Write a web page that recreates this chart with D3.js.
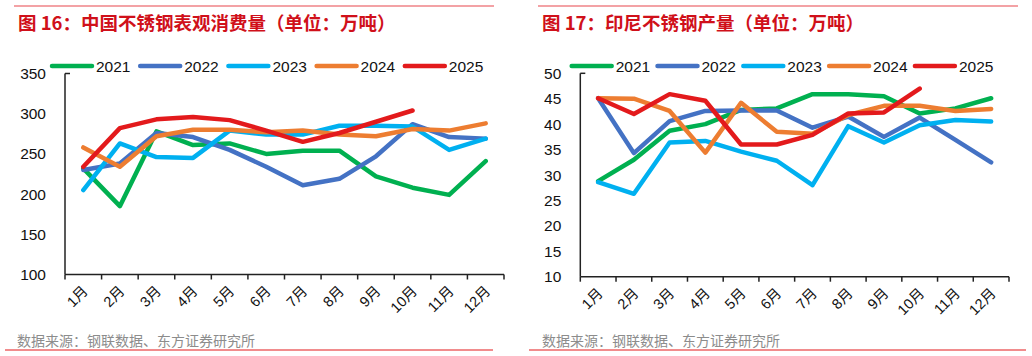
<!DOCTYPE html>
<html><head><meta charset="utf-8">
<script src="https://cdn.jsdelivr.net/npm/d3@7"></script>
<style>
html,body{margin:0;padding:0;background:#fff;}
svg{display:block;}
</style></head>
<body>
<svg id="c" width="1032" height="356"></svg>
<script>
const months = ["1月","2月","3月","4月","5月","6月","7月","8月","9月","10月","11月","12月"];
const seriesNames = ["2021","2022","2023","2024","2025"];
const seriesColors = ["#00b050","#4472c4","#00b0f0","#ed7d31","#e31a1c"];

// Chart 1: China apparent consumption (万吨)
const cn2021 = [232,185,278,261,263,250,254,254,222,208,199,241];
const cn2022 = [230,238,276,271,255,234,211,219,247,287,271,269];
const cn2023 = [205,263,246,245,279,274,274,285,285,284,255,269];
const cn2024 = [258,234,272,280,280,277,279,274,272,281,279,288];
const cn2025 = [234,282,293,296,292,279,265,276,290,304];
const cnTicks = [100,150,200,250,300,350];

// Chart 2: Indonesia output (万吨)
const id2021 = [28.8,33.0,38.7,40.0,42.8,43.1,45.9,45.9,45.5,42.1,43.1,45.1];
const id2022 = [45.1,34.3,40.6,42.6,42.7,42.7,39.3,41.5,37.5,41.3,36.9,32.5];
const id2023 = [28.6,26.3,36.4,36.7,34.6,32.8,28.0,39.6,36.4,39.8,40.8,40.5];
const id2024 = [45.1,45.0,42.6,34.4,44.2,38.5,38.1,41.8,43.6,43.6,42.6,43.0];
const id2025 = [45.1,42.0,45.9,44.6,36.0,36.0,37.9,42.1,42.3,47.0];
const idTicks = [10,15,20,25,30,35,40,45,50];

const svg = d3.select("#c");

function drawChart(o){
  const g = svg.append("g");
  g.append("line").attr("x1",o.ruleX0).attr("x2",o.ruleX1).attr("y1",6).attr("y2",6)
    .attr("stroke","#e8474c").attr("stroke-width",1.2);
  g.append("text").attr("x",o.titleX).attr("y",29.5)
    .attr("font-family","'Noto Sans CJK SC','Noto Sans',sans-serif")
    .attr("font-weight","bold").attr("font-size",18.5).attr("fill","#d0101a")
    .text(o.title);
  g.append("line").attr("x1",o.botX0).attr("x2",o.botX1).attr("y1",350).attr("y2",350)
    .attr("stroke","#e31a1c").attr("stroke-width",1.2);
  g.append("text").attr("x",o.srcX).attr("y",346)
    .attr("font-family","'Noto Sans CJK SC',sans-serif")
    .attr("font-size",14).attr("fill","#8c8c8c")
    .text("数据来源：钢联数据、东方证券研究所");

  const x = d3.scaleBand().domain(months).range([o.x0,o.x1]).paddingInner(0).paddingOuter(0);
  const y = d3.scaleLinear().domain(o.domain).range([o.y1,o.y0]);

  g.append("g").selectAll("text").data(o.ticks).join("text")
    .attr("x",o.x0-19).attr("y",d=>y(d)).attr("dy","0.36em")
    .attr("text-anchor","end")
    .attr("font-family","'Liberation Sans',Arial,sans-serif")
    .attr("font-size",15.5).attr("fill","#111")
    .text(d=>d);
  g.append("line").attr("x1",o.x0).attr("x2",o.x0).attr("y1",y(o.domain[1])).attr("y2",o.y1)
    .attr("stroke","#222").attr("stroke-width",1.5);
  g.append("line").attr("x1",o.x0).attr("x2",o.x0+5).attr("y1",y(o.domain[1])).attr("y2",y(o.domain[1]))
    .attr("stroke","#222").attr("stroke-width",1.5);

  const xa = g.append("g").attr("transform",`translate(0,${o.y1})`);
  xa.append("line").attr("x1",o.x0).attr("x2",o.x1).attr("stroke","#222").attr("stroke-width",1.5);
  const bounds = months.map(m=>x(m)).concat([o.x1]);
  xa.selectAll("line.t").data(bounds).join("line").attr("class","t")
    .attr("x1",d=>d).attr("x2",d=>d).attr("y1",0).attr("y2",5)
    .attr("stroke","#222").attr("stroke-width",1.5);
  xa.selectAll("text").data(months).join("text")
    .attr("transform",d=>`translate(${x(d)+x.bandwidth()/2+2},${14}) rotate(-45)`)
    .attr("text-anchor","end").attr("dy","0.35em")
    .attr("font-family","'Liberation Sans','Noto Sans CJK SC',sans-serif")
    .attr("font-size",14.5).attr("fill","#111")
    .text(d=>d);

  const line = d3.line().x((d,i)=>x(months[i])+x.bandwidth()/2).y(d=>y(d));
  o.series.forEach((s,k)=>{
    g.append("path").datum(s).attr("d",line).attr("fill","none")
      .attr("stroke",seriesColors[k]).attr("stroke-width",4.5)
      .attr("stroke-linejoin","round").attr("stroke-linecap","round");
  });

  const lg = g.append("g");
  seriesNames.forEach((n,k)=>{
    const lx = o.legX + k*o.legStep;
    lg.append("line").attr("x1",lx).attr("x2",lx+40).attr("y1",66).attr("y2",66)
      .attr("stroke",seriesColors[k]).attr("stroke-width",4.5).attr("stroke-linecap","round");
    lg.append("text").attr("x",lx+44).attr("y",66).attr("dy","0.36em")
      .attr("font-family","'Liberation Sans',Arial,sans-serif")
      .attr("font-size",15.5).attr("fill","#111").text(n);
  });
}

drawChart({
  title:"图 16：中国不锈钢表观消费量（单位：万吨）",
  titleX:18, ruleX0:14, ruleX1:494, botX0:5, botX1:493, srcX:17,
  x0:65, x1:504, y0:73.5, y1:274.5, domain:[100,350], ticks:cnTicks,
  series:[cn2021,cn2022,cn2023,cn2024,cn2025],
  legX:52, legStep:88.2
});
drawChart({
  title:"图 17：印尼不锈钢产量（单位：万吨）",
  titleX:542, ruleX0:538, ruleX1:1018, botX0:529, botX1:1026, srcX:542,
  x0:580.3, x1:1009, y0:73.3, y1:276.7, domain:[10,50], ticks:idTicks,
  series:[id2021,id2022,id2023,id2024,id2025],
  legX:571.7, legStep:85.8
});
</script>
</body></html>
